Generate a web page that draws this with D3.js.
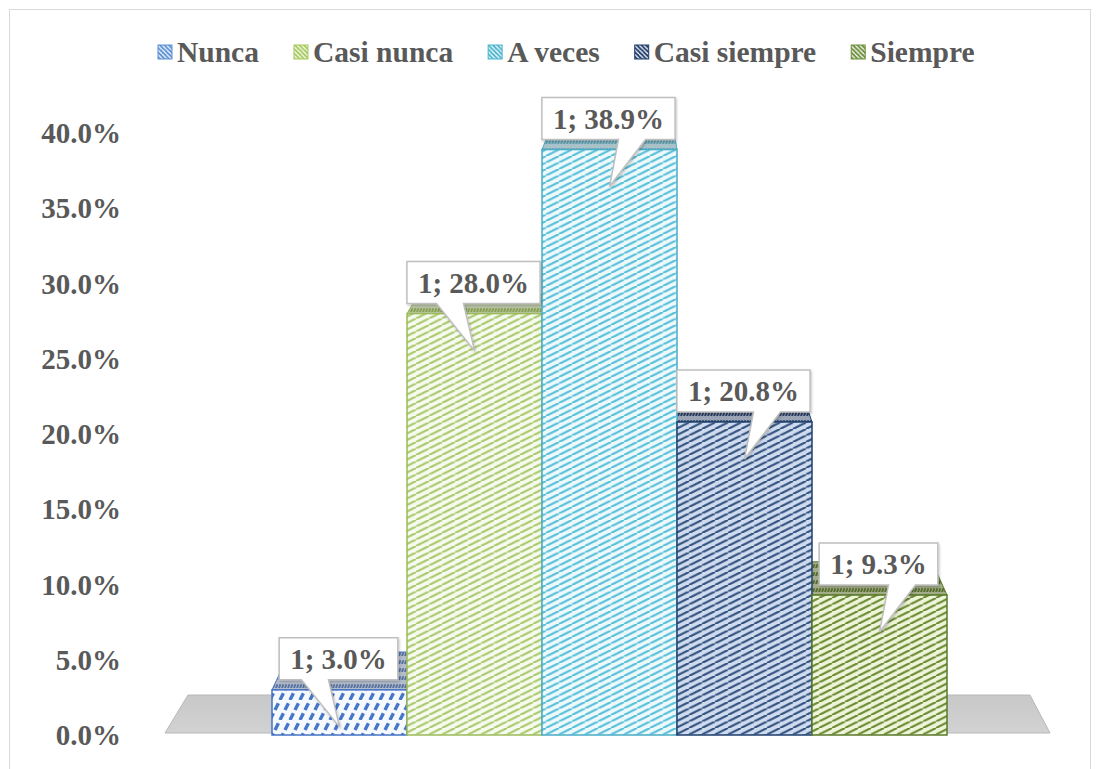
<!DOCTYPE html>
<html>
<head>
<meta charset="utf-8">
<script src="https://cdn.jsdelivr.net/npm/d3@7"></script>
<style>
  html, body { margin: 0; padding: 0; background: #ffffff; }
  svg text { font-family: "Liberation Serif", "Times New Roman", serif; font-weight: bold; fill: #595959; }
</style>
</head>
<body>
<svg id="chart" width="1100" height="769"></svg>
<script>
// ---- data ----
const categories = ["1"];
const seriesNames = ["Nunca", "Casi nunca", "A veces", "Casi siempre", "Siempre"];
const seriesValues = [3.0, 28.0, 38.9, 20.8, 9.3];
const yTickValues = [0, 5, 10, 15, 20, 25, 30, 35, 40];
// styles
const seriesBorder = ["#4472c4", "#9bbb59", "#4bacc6", "#1f3f6e", "#5a7a2a"];
const seriesStripe = ["#4777c9", "#a9ca6e", "#58c0d8", "#34527f", "#6a8a34"];
const seriesBg     = ["#f6f9fe", "#f7faee", "#eef9fc", "#cfdcef", "#eef5d9"];
const topBg        = ["#b3bccb", "#b9c3a5", "#a9c2c9", "#9aa4b4", "#a2ad88"];
const topStripe    = ["#56729e", "#86a04e", "#5c9fb0", "#2c4066", "#566c2e"];
const legendColor  = ["#5b8fd3", "#a6c85a", "#4bb4cc", "#1f3d6b", "#6b8e3a"];
const calloutSide  = ["left", "left", "right", "right", "right"];

const svg = d3.select("#chart");
const defs = svg.append("defs");

// scales
const y = d3.scaleLinear().domain([0, 40]).range([735, 133]);
const x = d3.scaleBand().domain(seriesNames).range([272, 947]).padding(0);
const floorX = d3.scaleLinear().domain([0, 1]).range([165, 1050]);

// perspective helpers
const VP = { x: 638, y: -88 };
const depthF = 0.0486;
const back = (px, py) => [px + (VP.x - px) * depthF, py + (VP.y - py) * depthF];

// chart border
svg.append("rect").attr("x", 9.5).attr("y", 9.5).attr("width", 1081).attr("height", 780)
  .attr("fill", "none").attr("stroke", "#d9d9d9").attr("stroke-width", 1);

// seamless diagonal patterns: upward (/) line from (0,h) to (w,0) in a w x h tile
function diagPattern(id, bg, fg, w, h, sw, dash, down) {
  const p = defs.append("pattern").attr("id", id)
    .attr("patternUnits", "userSpaceOnUse")
    .attr("width", w).attr("height", h);
  p.append("rect").attr("width", w).attr("height", h).attr("fill", bg);
  [-w, 0, w].forEach(off => {
    const l = p.append("line")
      .attr("x1", off).attr("x2", off + w)
      .attr("y1", down ? 0 : h).attr("y2", down ? h : 0)
      .attr("stroke", fg).attr("stroke-width", sw);
    if (dash) l.attr("stroke-dasharray", dash);
  });
}
seriesNames.forEach((s, i) => {
  if (i === 0) {
    // steep dashed stripes; line length = sqrt(10^2+20^2)=22.36 -> 2 periods of 11.18
    diagPattern("front" + i, seriesBg[i], seriesStripe[i], 10, 20, 3.4, "7.6 3.58", false);
  } else {
    diagPattern("front" + i, seriesBg[i], seriesStripe[i], 13, 6.5, 2.2, null, false);
  }
  diagPattern("top" + i, topBg[i], topStripe[i], 3, 8, 2, "4 4.54", false);
  diagPattern("leg" + i, legendColor[i], "#ffffff", 4.5, 4.5, 1.3, null, true);
});

// drop shadow for callouts
const flt = defs.append("filter").attr("id", "shadow").attr("x", "-10%").attr("y", "-10%")
  .attr("width", "130%").attr("height", "140%");
flt.append("feDropShadow").attr("dx", 1).attr("dy", 1.5).attr("stdDeviation", 1.2)
  .attr("flood-color", "#000").attr("flood-opacity", 0.22);

// floor gradient
const fg = defs.append("linearGradient").attr("id", "floorGrad")
  .attr("x1", 0).attr("y1", 0).attr("x2", 0).attr("y2", 1);
fg.append("stop").attr("offset", "0%").attr("stop-color", "#c8c8c8");
fg.append("stop").attr("offset", "100%").attr("stop-color", "#d2d2d2");

// floor
const y0 = y(0);
const fl = floorX(0), fr = floorX(1);
const floorPts = [[fl, y0 - 2], [fr, y0 - 2], back(fr, y0), back(fl, y0)];
svg.append("polygon").attr("points", floorPts.map(p => p.join(",")).join(" "))
  .attr("fill", "url(#floorGrad)").attr("stroke", "#b8b8b8").attr("stroke-width", 1);

// data records
const data = seriesNames.map((s, i) => ({ name: s, value: seriesValues[i], i }));

// top faces
svg.append("g").selectAll("polygon").data(data).join("polygon")
  .attr("points", d => {
    const x0 = x(d.name), x1 = x(d.name) + x.bandwidth(), yt = y(d.value);
    return [[x0, yt], [x1, yt], back(x1, yt), back(x0, yt)].map(p => p.join(",")).join(" ");
  })
  .attr("fill", d => `url(#top${d.i})`)
  .attr("stroke", d => seriesBorder[d.i]).attr("stroke-width", 1);

// front faces
svg.append("g").selectAll("rect").data(data).join("rect")
  .attr("x", d => x(d.name)).attr("y", d => y(d.value))
  .attr("width", x.bandwidth()).attr("height", d => y(0) - y(d.value))
  .attr("fill", d => `url(#front${d.i})`)
  .attr("stroke", d => seriesBorder[d.i]).attr("stroke-width", 1.5);

// y axis labels
svg.append("g").selectAll("text").data(yTickValues).join("text")
  .attr("x", 121).attr("y", d => y(d))
  .attr("text-anchor", "end").attr("dominant-baseline", "central")
  .attr("font-size", 29)
  .text(d => d.toFixed(1) + "%");

// callouts
const cg = svg.append("g");
data.forEach(d => {
  const cx = x(d.name) + x.bandwidth() / 2;
  const yt = y(d.value);
  const label = `${categories[0]}; ${d.value.toFixed(1)}%`;
  const g = cg.append("g");
  const path = g.append("path");
  const t = g.append("text").attr("font-size", 29).attr("text-anchor", "middle")
    .attr("x", cx - 1).text(label);
  const tw = t.node().getComputedTextLength();
  const bw = tw + 22, bh = 42;
  const bx0 = cx - 1 - bw / 2, bx1 = bx0 + bw;
  const by1 = yt - 10, by0 = by1 - bh;
  const tipX = cx, tipY = yt + 37;
  const b1 = calloutSide[d.i] === "left" ? cx - 38 : cx + 9;
  const b2 = b1 + 27;
  path.attr("d", `M${bx0},${by0} H${bx1} V${by1} H${b2} L${tipX},${tipY} L${b1},${by1} H${bx0} Z`)
    .attr("fill", "#ffffff").attr("stroke", "#bfbfbf").attr("stroke-width", 1.5)
    .attr("filter", "url(#shadow)");
  t.attr("y", (by0 + by1) / 2).attr("dominant-baseline", "central");
});

// legend
const lg = svg.append("g");
let lx = 158;
const ly = 52;
seriesNames.forEach((s, i) => {
  lg.append("rect").attr("x", lx).attr("y", ly - 7).attr("width", 14).attr("height", 14)
    .attr("fill", `url(#leg${i})`).attr("stroke", legendColor[i]).attr("stroke-width", 1);
  const t = lg.append("text").attr("x", lx + 19).attr("y", ly)
    .attr("dominant-baseline", "central").attr("font-size", 29.5).text(s);
  lx += 19 + t.node().getComputedTextLength() + 35;
});
</script>
</body>
</html>
